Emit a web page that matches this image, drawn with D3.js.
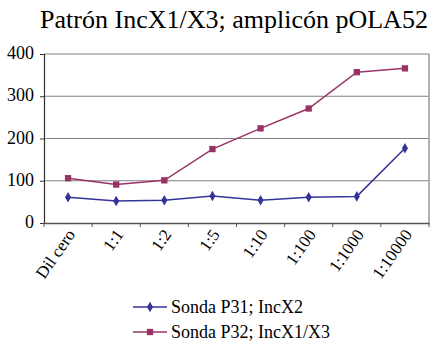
<!DOCTYPE html>
<html>
<head>
<meta charset="utf-8">
<script src="https://cdn.jsdelivr.net/npm/d3@7/dist/d3.min.js"></script>
<style>
  html, body { margin: 0; padding: 0; background: #fff; }
  svg { display: block; }
  svg text { font-family: "Liberation Serif", "Times New Roman", serif !important; fill: #000; }
</style>
</head>
<body>
<svg id="chart" width="438" height="344"></svg>
<script>
const categories = ["Dil cero", "1:1", "1:2", "1:5", "1:10", "1:100", "1:1000", "1:10000"];
const sondaP31 = [61, 52, 54, 64, 54, 61, 63, 177];
const sondaP32 = [106, 91, 101, 175, 224, 271, 357, 366];
const yTicks = [0, 100, 200, 300, 400];
const seriesNames = ["Sonda P31; IncX2", "Sonda P32; IncX1/X3"];
const seriesColors = ["#333399", "#993366"];

const svg = d3.select("#chart");
const margin = { left: 44, right: 9, top: 54, bottom: 121 };
const W = 438, H = 344;

const x = d3.scaleBand().domain(categories).range([margin.left, W - margin.right]);
const y = d3.scaleLinear().domain([0, 400]).range([H - margin.bottom, margin.top]);

// title
svg.append("text")
  .attr("x", 234).attr("y", 28)
  .attr("text-anchor", "middle")
  .attr("font-size", 26)
  .text("Patrón IncX1/X3; amplicón pOLA52");

// gridlines
svg.append("g")
  .selectAll("line")
  .data(yTicks.filter(d => d > 0))
  .join("line")
  .attr("x1", margin.left).attr("x2", W - margin.right)
  .attr("y1", d => y(d)).attr("y2", d => y(d))
  .attr("stroke", "#808080").attr("stroke-width", 1.2);

// right border of plot area
svg.append("line")
  .attr("x1", W - margin.right).attr("x2", W - margin.right)
  .attr("y1", margin.top).attr("y2", y(0))
  .attr("stroke", "#999").attr("stroke-width", 1.5);

// y axis
const yAxis = svg.append("g")
  .attr("transform", `translate(${margin.left},0)`)
  .call(d3.axisLeft(y).tickValues(yTicks).tickSize(4).tickPadding(6));
yAxis.select(".domain").attr("stroke", "#333").attr("stroke-width", 1.2);
yAxis.selectAll(".tick line").attr("stroke", "#333");
yAxis.selectAll("text").attr("font-size", 18).attr("dy", "0.25em");

// x axis with ticks at band boundaries
const xAxis = svg.append("g")
  .attr("transform", `translate(0,${y(0)})`)
  .call(d3.axisBottom(x).tickSize(0));
xAxis.select(".domain").attr("stroke", "#555").attr("stroke-width", 1.5);
xAxis.selectAll("text")
  .attr("font-size", 17)
  .attr("text-anchor", "end")
  .attr("x", 0).attr("y", 0)
  .attr("dy", "0.35em")
  .attr("transform", "translate(3,8) rotate(-55)");
const bounds = categories.map(c => x(c)).concat([x.range()[1]]);
xAxis.selectAll(".bound")
  .data(bounds)
  .join("line")
  .attr("class", "bound")
  .attr("x1", d => d).attr("x2", d => d)
  .attr("y1", 0).attr("y2", 4)
  .attr("stroke", "#555");

const cx = c => x(c) + x.bandwidth() / 2;
const line = d3.line().x((d, i) => cx(categories[i])).y(d => y(d));

const diamond = d3.symbol().type(d3.symbolDiamond).size(32);
const square = d3.symbol().type(d3.symbolSquare).size(40);

[sondaP31, sondaP32].forEach((vals, si) => {
  svg.append("path")
    .datum(vals)
    .attr("d", line)
    .attr("fill", "none")
    .attr("stroke", seriesColors[si])
    .attr("stroke-width", 1.5);
  svg.append("g")
    .selectAll("path")
    .data(vals)
    .join("path")
    .attr("transform", (d, i) => `translate(${cx(categories[i])},${y(d)})`)
    .attr("d", si === 0 ? diamond : square)
    .attr("fill", seriesColors[si]);
});

// legend
const legend = svg.append("g");
seriesNames.forEach((name, i) => {
  const ly = 307 + i * 25;
  legend.append("line")
    .attr("x1", 133).attr("x2", 167).attr("y1", ly).attr("y2", ly)
    .attr("stroke", seriesColors[i]).attr("stroke-width", 1.5);
  legend.append("path")
    .attr("transform", `translate(150,${ly})`)
    .attr("d", i === 0 ? diamond : square)
    .attr("fill", seriesColors[i]);
  legend.append("text")
    .attr("x", 171).attr("y", ly)
    .attr("dy", "0.33em")
    .attr("font-size", 18)
    .text(name);
});
</script>
</body>
</html>
